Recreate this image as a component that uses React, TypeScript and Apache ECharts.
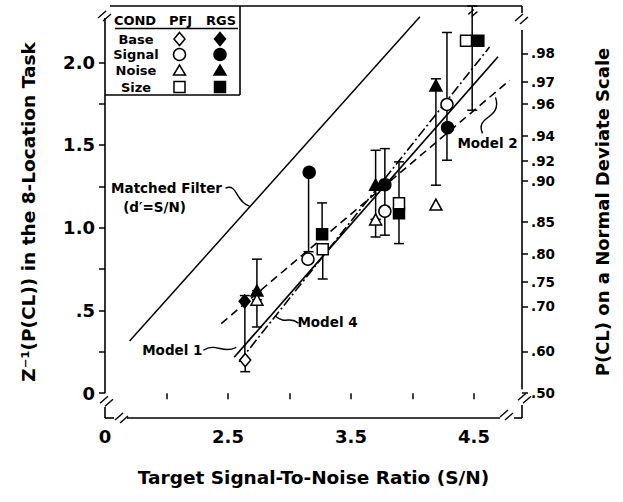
import { useEffect, useRef } from "react";
import * as echarts from "echarts";

const FONT = "DejaVu Sans";

// axis extents (data units)
const X_MIN = 1.5;
const X_MAX = 4.89;
const Y_MIN = -0.15;
const Y_MAX = 2.34;

// tick / label definitions
const xTickValues = [2.0, 2.5, 3.0, 3.5, 4.0, 4.5];
const xLabelValues = [1.5, 2.5, 3.5, 4.5];
const xLabelTexts = ["0", "2.5", "3.5", "4.5"];
const yTickValues = [0, 0.25, 0.5, 0.75, 1.0, 1.25, 1.5, 1.75, 2.0];
const yLabelValues = [0, 0.5, 1.0, 1.5, 2.0];
const yLabelTexts = ["0", ".5", "1.0", "1.5", "2.0"];
const pclValues = [0.5, 0.6, 0.7, 0.75, 0.8, 0.85, 0.9, 0.92, 0.94, 0.96, 0.97, 0.98];
const pclTexts = [".50", ".60", ".70", ".75", ".80", ".85", ".90", ".92", ".94", ".96", ".97", ".98"];

// legend categories
const conditions = ["Base", "Signal", "Noise", "Size"];
const observers = ["PFJ", "RGS"];

// observer PFJ (open symbols): [S/N, z]
const pfjBase = [[2.64, 0.2]];
const pfjSignal = [[3.15, 0.81], [3.775, 1.1], [4.28, 1.745]];
const pfjNoise = [[2.735, 0.565], [3.7, 1.05], [4.19, 1.14]];
const pfjSize = [[3.27, 0.87], [3.89, 1.148], [4.435, 2.13]];

// observer RGS (filled symbols)
const rgsBase = [[2.635, 0.555]];
const rgsSignal = [[3.16, 1.335], [3.775, 1.26], [4.285, 1.605]];
const rgsNoise = [[2.735, 0.62], [3.7, 1.26], [4.19, 1.86]];
const rgsSize = [[3.265, 0.96], [3.89, 1.088], [4.535, 2.13]];

// error bars: [S/N, low, high]
const errorBars = [
  [2.64, 0.13, 0.2],
  [2.637, 0.2, 0.59],
  [2.735, 0.4, 0.565],
  [2.735, 0.62, 0.81],
  [3.155, 0.855, 1.335],
  [3.265, 0.96, 1.15],
  [3.27, 0.69, 0.87],
  [3.7, 0.944, 1.05],
  [3.7, 1.05, 1.468],
  [3.775, 0.955, 1.1],
  [3.775, 1.1, 1.478],
  [3.89, 0.904, 1.398],
  [4.19, 1.257, 1.9],
  [4.28, 1.408, 1.605],
  [4.28, 1.605, 2.18],
  [4.485, 1.71, 2.34],
];

// model / reference lines
const matchedFilter = [[1.7, 0.315], [4.06, 2.275]];
const model1 = [[2.55, 0.217], [4.695, 2.033]];
const model2 = [[2.445, 0.421], [4.79, 1.891]];
const model4 = [[2.59, 0.19], [4.626, 2.092]];

function probit(p: number): number {
  const a = [-3.969683028665376e1, 2.209460984245205e2, -2.759285104469687e2, 1.38357751867269e2, -3.066479806614716e1, 2.506628277459239];
  const b = [-5.447609879822406e1, 1.615858368580409e2, -1.556989798598866e2, 6.680131188771972e1, -1.328068155288572e1];
  const c = [-7.784894002430293e-3, -3.223964580411365e-1, -2.400758277161838, -2.549732539343734, 4.374664141464968, 2.938163982698783];
  const d = [7.784695709041462e-3, 3.224671290700398e-1, 2.445134137142996, 3.754408661907416];
  const plow = 0.02425;
  if (p < plow) {
    const q = Math.sqrt(-2 * Math.log(p));
    return (((((c[0] * q + c[1]) * q + c[2]) * q + c[3]) * q + c[4]) * q + c[5]) / ((((d[0] * q + d[1]) * q + d[2]) * q + d[3]) * q + 1);
  }
  if (p > 1 - plow) {
    const q = Math.sqrt(-2 * Math.log(1 - p));
    return -(((((c[0] * q + c[1]) * q + c[2]) * q + c[3]) * q + c[4]) * q + c[5]) / ((((d[0] * q + d[1]) * q + d[2]) * q + d[3]) * q + 1);
  }
  const q = p - 0.5;
  const r = q * q;
  return ((((((a[0] * r + a[1]) * r + a[2]) * r + a[3]) * r + a[4]) * r + a[5]) * q) / (((((b[0] * r + b[1]) * r + b[2]) * r + b[3]) * r + b[4]) * r + 1);
}

const pclZ = pclValues.map(probit);

function onLine(seg: number[][], x: number): number {
  const [[x1, y1], [x2, y2]] = seg;
  return y1 + ((y2 - y1) * (x - x1)) / (x2 - x1);
}

const symbolOf: Record<string, { symbol: string; size: number | number[] }> = {
  Base: { symbol: "diamond", size: [11, 13] },
  Signal: { symbol: "circle", size: 12 },
  Noise: { symbol: "triangle", size: [12, 11] },
  Size: { symbol: "rect", size: 11 },
};

const pfjData: Record<string, number[][]> = { Base: pfjBase, Signal: pfjSignal, Noise: pfjNoise, Size: pfjSize };
const rgsData: Record<string, number[][]> = { Base: rgsBase, Signal: rgsSignal, Noise: rgsNoise, Size: rgsSize };

const lineStyleBase = { color: "#000", width: 1.6 };

export default function App() {
  const ref = useRef<HTMLDivElement>(null);

  useEffect(() => {
    document.body.style.margin = "0";
    const chart = echarts.init(ref.current!, null, { renderer: "svg" });

    const scatterSeries: any[] = [];
    observers
      .slice()
      .reverse()
      .forEach((obs) => {
        conditions.forEach((cond) => {
          const filled = obs === "RGS";
          scatterSeries.push({
            type: "scatter",
            name: `${cond} ${obs}`,
            data: (filled ? rgsData : pfjData)[cond],
            symbol: symbolOf[cond].symbol,
            symbolSize: symbolOf[cond].size,
            itemStyle: {
              color: filled ? "#000" : "#fff",
              borderColor: "#000",
              borderWidth: 1.5,
              opacity: 1,
            },
            z: 5,
            silent: true,
          });
        });
      });

    const mkLine = (name: string, data: number[][], type: any, width = 1.6) => ({
      type: "line",
      name,
      data,
      showSymbol: false,
      symbol: "none",
      lineStyle: { ...lineStyleBase, width, type },
      z: 3,
      silent: true,
    });

    const option: any = {
      animation: false,
      backgroundColor: "#fff",
      grid: { left: 105, right: 101, top: 6, bottom: 84, containLabel: false },
      xAxis: {
        type: "value",
        min: X_MIN,
        max: X_MAX,
        name: "Target Signal-To-Noise Ratio (S/N)",
        nameLocation: "middle",
        nameGap: 50,
        nameTextStyle: { fontFamily: FONT, fontWeight: "bold", fontSize: 18.5, color: "#000" },
        axisLine: { show: false },
        splitLine: { show: false },
        axisTick: { show: true, customValues: xTickValues, length: 6, inside: false, lineStyle: { color: "#000", width: 1.5 } },
        axisLabel: {
          customValues: xLabelValues,
          formatter: (v: number) => {
            const i = xLabelValues.findIndex((t) => Math.abs(t - v) < 1e-6);
            return i >= 0 ? xLabelTexts[i] : "";
          },
          fontFamily: FONT,
          fontWeight: "bold",
          fontSize: 18,
          color: "#000",
          margin: 9,
        },
      },
      yAxis: [
        {
          type: "value",
          min: Y_MIN,
          max: Y_MAX,
          position: "left",
          name: "Z⁻¹(P(CL)) in the 8-Location Task",
          nameLocation: "middle",
          nameRotate: 90,
          nameGap: 67,
          nameTextStyle: { fontFamily: FONT, fontWeight: "bold", fontSize: 18.5, color: "#000" },
          axisLine: { show: false },
          splitLine: { show: false },
          axisTick: { show: true, customValues: yTickValues, length: 6, inside: false, lineStyle: { color: "#000", width: 1.5 } },
          axisLabel: {
            customValues: yLabelValues,
            formatter: (v: number) => {
              const i = yLabelValues.findIndex((t) => Math.abs(t - v) < 1e-6);
              return i >= 0 ? yLabelTexts[i] : "";
            },
            fontFamily: FONT,
            fontWeight: "bold",
            fontSize: 18,
            color: "#000",
            margin: 10,
          },
        },
        {
          type: "value",
          min: Y_MIN,
          max: Y_MAX,
          position: "right",
          name: "P(CL) on a Normal Deviate Scale",
          nameLocation: "middle",
          nameRotate: 90,
          nameGap: 71,
          nameTextStyle: { fontFamily: FONT, fontWeight: "bold", fontSize: 18, color: "#000" },
          axisLine: { show: false },
          splitLine: { show: false },
          axisTick: { show: true, customValues: pclZ, length: 6, inside: false, lineStyle: { color: "#000", width: 1.5 } },
          axisLabel: {
            customValues: pclZ,
            formatter: (v: number) => {
              const i = pclZ.findIndex((t) => Math.abs(t - v) < 1e-4);
              return i >= 0 ? pclTexts[i] : "";
            },
            fontFamily: FONT,
            fontWeight: "bold",
            fontSize: 13.5,
            color: "#000",
            margin: 9,
          },
        },
      ],
      series: [
        mkLine("Matched Filter", matchedFilter, "solid", 1.5),
        mkLine("Model 1", model1, "solid", 1.7),
        mkLine("Model 2", model2, [8, 5], 1.6),
        mkLine("Model 4", model4, [10, 3, 2, 3], 1.6),
        {
          type: "custom",
          name: "error bars",
          data: errorBars,
          encode: { x: 0, y: [1, 2] },
          z: 4,
          silent: true,
          renderItem: (_p: any, api: any) => {
            const x = api.value(0);
            const lo = api.coord([x, api.value(1)]);
            const hi = api.coord([x, api.value(2)]);
            const w = 5;
            const st = { stroke: "#000", lineWidth: 1.5 };
            return {
              type: "group",
              children: [
                { type: "line", shape: { x1: lo[0], y1: lo[1], x2: hi[0], y2: hi[1] }, style: st },
                { type: "line", shape: { x1: lo[0] - w, y1: lo[1], x2: lo[0] + w, y2: lo[1] }, style: st },
                { type: "line", shape: { x1: hi[0] - w, y1: hi[1], x2: hi[0] + w, y2: hi[1] }, style: st },
              ],
            };
          },
        },
        ...scatterSeries,
      ],
    };

    chart.setOption(option);

    const P = (x: number, y: number) => chart.convertToPixel({ xAxisIndex: 0, yAxisIndex: 0 }, [x, y]) as number[];
    const [gl, gt] = P(X_MIN, Y_MAX);
    const [gr, gb] = P(X_MAX, Y_MIN);
    const y0 = P(X_MIN, 0)[1];

    const ls = { stroke: "#000", lineWidth: 1.6, fill: "none" };
    const L = (x1: number, y1: number, x2: number, y2: number, w = 1.6) => ({
      type: "line",
      silent: true,
      z: 10,
      shape: { x1, y1, x2, y2 },
      style: { ...ls, lineWidth: w },
    });
    const brk = (cx: number, cy: number, s = 1) => [
      L(cx - 7 * s, cy + 2 * s, cx + 1 * s, cy - 5 * s, 1.4),
      L(cx - 2 * s, cy + 5 * s, cx + 6 * s, cy - 2 * s, 1.4),
    ];
    const txt = (text: string, x: number, y: number, size: number, align = "center") => ({
      type: "text",
      silent: true,
      z: 12,
      x,
      y,
      style: {
        text,
        fontFamily: FONT,
        fontWeight: "bold",
        fontSize: size,
        fill: "#000",
        align,
        verticalAlign: "middle",
      },
    });
    const curve = (x1: number, y1: number, cx1: number, cy1: number, cx2: number, cy2: number, x2: number, y2: number) => ({
      type: "bezierCurve",
      silent: true,
      z: 10,
      shape: { x1, y1, cpx1: cx1, cpy1: cy1, cpx2: cx2, cpy2: cy2, x2, y2 },
      style: { stroke: "#000", lineWidth: 1.4, fill: "none" },
    });

    const g: any[] = [];
    // frame (broken axes)
    g.push(L(gl + 5, gt, gr, gt));
    g.push(L(gr, gt, gr, gt + 7));
    g.push(...brk(gl, gt + 10));
    g.push(L(gl, gt + 12, gl, y0));
    g.push(...brk(gl + 2, y0 + 8));
    g.push(L(gl, gb - 11, gl, gb));
    g.push(L(gl, gb, gl + 9, gb));
    g.push(...brk(gl + 17, gb));
    g.push(L(gl + 22, gb, gr - 22, gb));
    g.push(...brk(gr - 15, gb - 3));
    g.push(L(gr - 8, gb, gr, gb));
    g.push(L(gr, gb - 13, gr, gb));
    g.push(...brk(gr + 3, y0 + 5));
    g.push(L(gr, gt + 24, gr, y0 - 4));
    g.push(...brk(gr, gt + 13));
    // break on the clipped error bar
    const eb = errorBars[errorBars.length - 1];
    const ebp = P(eb[0], Y_MAX);
    g.push(...brk(ebp[0] + 1, ebp[1] + 7, 0.7));

    // legend box
    const bx2 = gl + 135;
    const by2 = gt + 89;
    g.push(L(bx2, gt, bx2, by2));
    g.push(L(gl, by2, bx2, by2));
    const colCond = gl + 31;
    const colPfj = gl + 74.5;
    const colRgs = gl + 115;
    g.push(txt("COND", colCond - 1, gt + 14.5, 13));
    g.push(txt("PFJ", colPfj + 1, gt + 14.5, 13));
    g.push(txt("RGS", colRgs + 1, gt + 14.5, 13));
    g.push(L(gl + 10, gt + 22.5, bx2 - 2, gt + 22.5, 1.5));
    const rowY = [gt + 33, gt + 48.5, gt + 64.5, gt + 81];
    conditions.forEach((cond, i) => {
      const cy = rowY[i];
      g.push(txt(cond, colCond, cy, 13));
      observers.forEach((obs) => {
        const cx = obs === "PFJ" ? colPfj : colRgs;
        const st = { fill: obs === "RGS" ? "#000" : "#fff", stroke: "#000", lineWidth: 1.5 };
        let el: any;
        if (cond === "Base")
          el = { type: "polygon", shape: { points: [[cx, cy - 6.5], [cx + 5.5, cy], [cx, cy + 6.5], [cx - 5.5, cy]] } };
        else if (cond === "Signal") el = { type: "circle", shape: { cx, cy, r: 6 } };
        else if (cond === "Noise")
          el = { type: "polygon", shape: { points: [[cx, cy - 5.5], [cx + 6, cy + 4.5], [cx - 6, cy + 4.5]] } };
        else el = { type: "rect", shape: { x: cx - 5.5, y: cy - 5.5, width: 11, height: 11 } };
        g.push({ ...el, style: st, silent: true, z: 11 });
      });
    });

    // annotations
    const mfX = 2.675;
    const [mx, my] = P(mfX, onLine(matchedFilter, mfX));
    g.push(txt("Matched Filter", mx - 83, my - 19, 13.5));
    g.push(txt("(d′=S/N)", mx - 95, my + 0, 13.5));
    g.push(curve(mx - 24, my - 19, mx - 12, my - 24, mx - 14, my - 5, mx, my - 1));

    const m2X = 4.683;
    const [m2x, m2y] = P(m2X, onLine(model2, m2X));
    g.push(txt("Model 2", m2x - 9, m2y + 52, 13.5));
    g.push(curve(m2x - 14, m2y + 42, m2x - 22, m2y + 24, m2x + 6, m2y + 28, m2x - 1, m2y + 6));

    const m4X = 2.878;
    const [m4x, m4y] = P(m4X, onLine(model4, m4X));
    g.push(txt("Model 4", m4x + 53, m4y + 5, 13.5));
    g.push(curve(m4x + 24, m4y + 6, m4x + 14, m4y - 2, m4x + 12, m4y + 8, m4x + 1, m4y - 1));

    const m1X = 2.6;
    const [m1x, m1y] = P(m1X, onLine(model1, m1X));
    g.push(txt("Model 1", m1x - 68, m1y, 13.5));
    g.push(curve(m1x - 37, m1y, m1x - 24, m1y - 8, m1x - 18, m1y + 4, m1x - 4, m1y - 3));

    chart.setOption({ graphic: g });

    return () => chart.dispose();
  }, []);

  return <div ref={ref} style={{ width: 623, height: 502 }} />;
}
